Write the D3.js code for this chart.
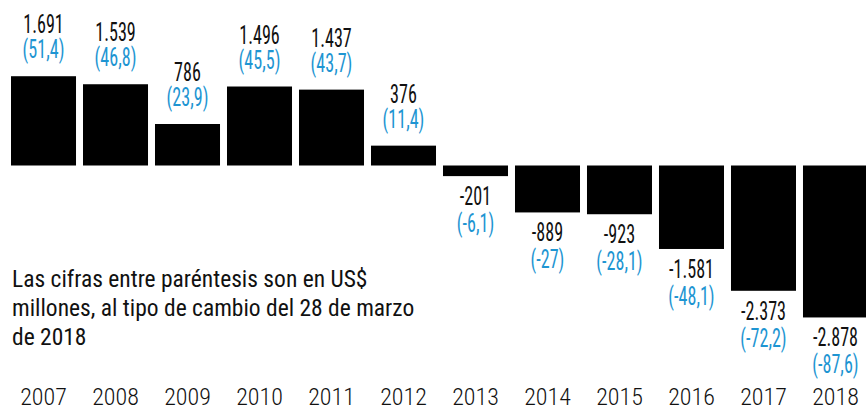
<!DOCTYPE html>
<html>
<head>
<meta charset="utf-8">
<script src="https://cdn.jsdelivr.net/npm/d3@7"></script>
<style>
  html, body { margin: 0; padding: 0; background: #fff; }
  svg { display: block; }
  text { font-family: "Roboto Condensed", Roboto, "Liberation Sans", sans-serif; }
</style>
</head>
<body>
<svg id="chart" width="866" height="408"></svg>
<script>
// Yearly results (local currency, millions) and the same figures in US$ millions
const years = ["2007", "2008", "2009", "2010", "2011", "2012", "2013", "2014", "2015", "2016", "2017", "2018"];
const values = [1691, 1539, 786, 1496, 1437, 376, -201, -889, -923, -1581, -2373, -2878];
const usdValues = [51.4, 46.8, 23.9, 45.5, 43.7, 11.4, -6.1, -27, -28.1, -48.1, -72.2, -87.6];
const noteLines = [
  "Las cifras entre paréntesis son en US$",
  "millones, al tipo de cambio del 28 de marzo",
  "de 2018"
];

const BLUE = "#1e95d2";
const INK = "#111";

const locale = d3.formatLocale({ decimal: ",", thousands: ".", grouping: [3], currency: ["", ""], minus: "-" });
const fmtInt = locale.format(",d");
const fmtUsd = locale.format(",~f");

const svg = d3.select("#chart");

// horizontal squeeze so a sample string set at `size` spans `target` px
function squeeze(sample, size, target, weight) {
  const t = svg.append("text").attr("font-size", size).attr("font-weight", weight || 400).text(sample);
  const w = t.node().getComputedTextLength();
  t.remove();
  return Math.min(1, target / w);
}
const sxValue = squeeze("1.691", 25, 40.5);
const sxYear = squeeze("2007", 24, 47, 350);
const sxNote = squeeze(noteLines[0], 23.5, 363);

const x = d3.scaleBand()
  .domain(years)
  .range([11, 868])
  .paddingInner(0.097)
  .paddingOuter(0);

const y = d3.scaleLinear()
  .domain([-3000, 2000])
  .range([323.9, 59.9]);

const data = years.map((yr, i) => ({ year: yr, value: values[i], usd: usdValues[i] }));

// bars grow from the zero line
svg.append("g")
  .selectAll("rect")
  .data(data)
  .join("rect")
  .attr("x", d => x(d.year))
  .attr("width", x.bandwidth())
  .attr("y", d => Math.min(y(0), y(d.value)))
  .attr("height", d => Math.abs(y(d.value) - y(0)))
  .attr("fill", "#000");

// two-line value labels: above positive bars, below negative ones
const labels = svg.append("g")
  .selectAll("g")
  .data(data)
  .join("g")
  .attr("transform", d => `translate(${x(d.year) + x.bandwidth() / 2},0)`);

labels.append("text")
  .attr("transform", d => {
    const yy = d.value >= 0 ? y(d.value) - 43 : y(d.value) + 29;
    return `translate(0,${yy}) scale(${sxValue},1)`;
  })
  .attr("text-anchor", "middle")
  .attr("font-size", 25)
  .attr("fill", INK)
  .text(d => fmtInt(d.value));

labels.append("text")
  .attr("transform", d => {
    const yy = d.value >= 0 ? y(d.value) - 18 : y(d.value) + 56;
    return `translate(0,${yy}) scale(${sxValue},1)`;
  })
  .attr("text-anchor", "middle")
  .attr("font-size", 25)
  .attr("fill", BLUE)
  .text(d => `(${fmtUsd(d.usd)})`);

// year axis along the bottom
const xAxis = d3.axisBottom(x).tickSize(0).tickPadding(0);
const axisG = svg.append("g")
  .attr("transform", "translate(0,387)")
  .call(xAxis);
axisG.select(".domain").remove();
axisG.selectAll("text")
  .attr("dy", 0)
  .attr("y", 0)
  .attr("transform", `translate(0,18) scale(${sxYear},1)`)
  .attr("font-size", 24)
  .attr("font-weight", 350)
  .attr("fill", INK);

// explanatory note
svg.append("text")
  .attr("transform", `translate(12,287) scale(${sxNote},1)`)
  .attr("font-size", 23.5)
  .attr("fill", INK)
  .selectAll("tspan")
  .data(noteLines)
  .join("tspan")
  .attr("x", 0)
  .attr("dy", (d, i) => i === 0 ? 0 : 29)
  .text(d => d);
</script>
</body>
</html>
